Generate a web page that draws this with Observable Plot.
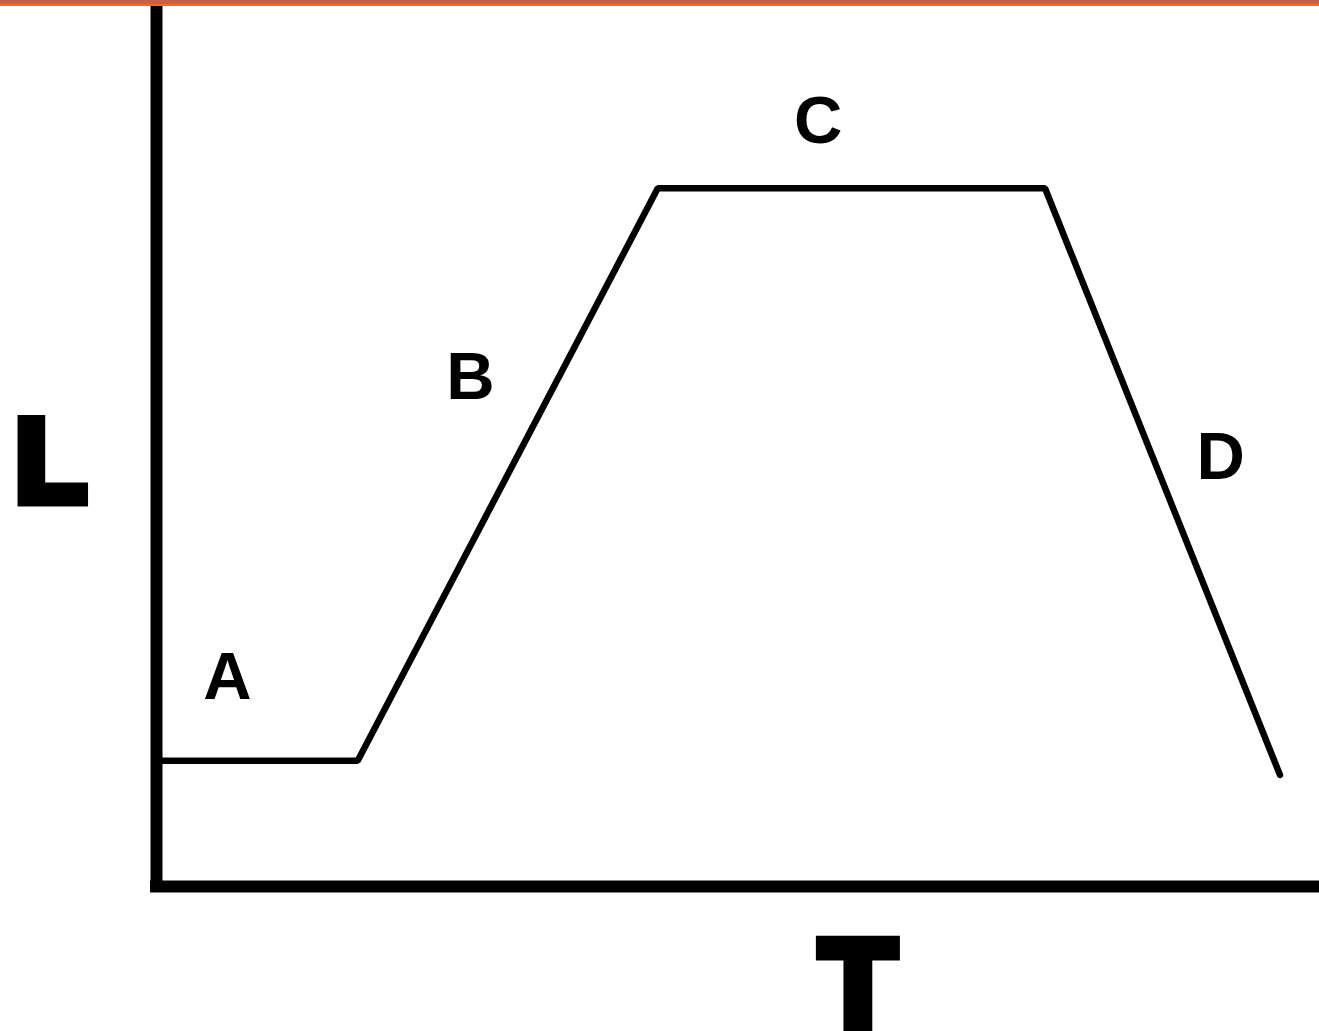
<!DOCTYPE html>
<html>
<head>
<meta charset="utf-8">
<script src="https://cdn.jsdelivr.net/npm/d3@7"></script>
<script src="https://cdn.jsdelivr.net/npm/@observablehq/plot@0.6"></script>
<style>
  html, body { margin: 0; padding: 0; background: #fff; }
  #wrap { position: relative; width: 1319px; height: 1031px; overflow: hidden; }
  #band { position: absolute; left: 0; top: 0; width: 1319px; height: 4px; background: #c4604e; border-bottom: 2px solid #ff6a10; }
</style>
</head>
<body>
<div id="wrap"><div id="chart"></div><div id="band"></div></div>
<script>
// Phase curve (T = time, L = level), in chart units
const phaseT = [0, 17.3, 43.1, 76.4, 96.6];
const phaseL = [14.2, 14.2, 78.8, 78.8, 12.6];

// Phase labels
const phaseNames = ["A", "B", "C", "D"];
const phaseNameT = [6.1, 27.0, 56.9, 91.5];
const phaseNameL = [21.2, 55.0, 83.9, 46.0];

// Axis titles
const axisNames = ["L", "T"];
const axisNameT = [-9.1, 60.3];
const axisNameL = [43.5, -15.9];

const curve = phaseT.map((t, i) => ({t, l: phaseL[i]}));
const phaseLabels = phaseNames.map((n, i) => ({n, t: phaseNameT[i], l: phaseNameL[i]}));
const axisLabels = axisNames.map((n, i) => ({n, t: axisNameT[i], l: axisNameL[i]}));

const chart = Plot.plot({
  width: 1319,
  height: 1031,
  marginLeft: 156,
  marginRight: 0,
  marginTop: 0,
  marginBottom: 145,
  style: {background: "#fff", overflow: "visible"},
  x: {domain: [0, 100], axis: null},
  y: {domain: [0, 100], axis: null},
  marks: [
    Plot.ruleX([0], {stroke: "#000", strokeWidth: 12, strokeLinecap: "square"}),
    Plot.ruleY([0], {stroke: "#000", strokeWidth: 12, strokeLinecap: "square"}),
    Plot.line(curve, {x: "t", y: "l", stroke: "#000", strokeWidth: 6.5, strokeLinejoin: "miter"}),
    Plot.text(phaseLabels, {
      x: "t", y: "l", text: "n", lineAnchor: "bottom",
      fontSize: 67, fontWeight: "bold", fontFamily: "Liberation Sans, Arial, sans-serif", fill: "#000"
    }),
    Plot.text(axisLabels, {
      x: "t", y: "l", text: "n", lineAnchor: "bottom",
      fontSize: (d) => d.n === "T" ? 124 : 116,
      fontWeight: "bold", fontFamily: "Liberation Sans, Arial, sans-serif",
      fill: "#000", stroke: "#000", strokeWidth: 11, strokeLinejoin: "miter"
    })
  ]
});
document.getElementById("chart").appendChild(chart);
</script>
</body>
</html>
